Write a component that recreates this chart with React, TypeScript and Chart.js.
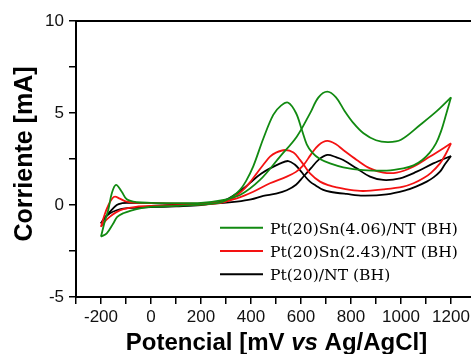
import React, { useEffect, useRef } from "react";
import { Chart, registerables } from "chart.js";

Chart.register(...registerables);

// ---- data (potential in mV, current in mA), forward scan then reverse scan ----
const greenV = [-200, -185, -171, -157, -140, -117, -97, -57, 0, 100, 200, 280, 356, 436, 516, 583, 636, 670, 705, 740, 775, 810, 850, 900, 950, 1000, 1076, 1143, 1200,
  1180, 1160, 1140, 1115, 1085, 1050, 1009, 943, 849, 769, 716, 676, 645, 623, 603, 580, 549, 520, 489, 449, 409, 380, 356, 330, 303, 276, 200, 100, 0, -44, -80, -111, -135, -151, -177, -200];
const greenI = [-1.72, -0.9, -0.27, 0.63, 1.09, 0.72, 0.31, 0.15, 0.12, 0.1, 0.12, 0.25, 0.54, 1.36, 2.63, 3.71, 4.98, 5.85, 6.16, 5.85, 5.1, 4.45, 3.9, 3.52, 3.42, 3.55, 4.35, 5.1, 5.85,
  4.9, 4.0, 3.35, 2.85, 2.45, 2.15, 1.99, 1.87, 1.9, 2.05, 2.26, 2.5, 2.85, 3.3, 4.1, 5.0, 5.56, 5.4, 4.9, 3.6, 2.1, 1.3, 0.82, 0.5, 0.27, 0.13, 0.02, -0.05, -0.1, -0.18, -0.3, -0.45, -0.65, -1.0, -1.54, -1.72];

const redV = [-200, -185, -170, -155, -144, -125, -97, -60, 0, 100, 200, 280, 343, 409, 476, 543, 580, 609, 640, 670, 705, 740, 769, 823, 876, 929, 983, 1049, 1116, 1200,
  1180, 1156, 1120, 1089, 1050, 1009, 929, 849, 796, 743, 716, 676, 636, 610, 596, 570, 536, 500, 476, 450, 423, 400, 369, 340, 316, 280, 200, 100, 0, -60, -111, -140, -164, -185, -200];
const redI = [-1.18, -0.5, 0.0, 0.35, 0.45, 0.35, 0.18, 0.12, 0.1, 0.08, 0.08, 0.15, 0.36, 0.72, 1.18, 1.54, 1.8, 2.15, 2.75, 3.25, 3.48, 3.3, 2.99, 2.45, 1.99, 1.76, 1.76, 2.08, 2.63, 3.35,
  2.8, 2.26, 1.75, 1.45, 1.18, 1.0, 0.85, 0.76, 0.82, 0.96, 1.05, 1.27, 1.72, 2.2, 2.45, 2.85, 2.99, 2.85, 2.63, 2.2, 1.72, 1.3, 0.82, 0.5, 0.27, 0.12, 0.02, -0.02, -0.05, -0.1, -0.23, -0.4, -0.63, -0.9, -1.18];

const blackV = [-200, -185, -164, -137, -115, -97, 0, 100, 200, 280, 343, 400, 449, 500, 543, 580, 610, 640, 670, 705, 740, 769, 823, 876, 929, 996, 1063, 1129, 1200,
  1175, 1156, 1130, 1103, 1060, 1023, 943, 849, 783, 716, 689, 660, 636, 610, 596, 575, 549, 515, 476, 440, 409, 375, 343, 310, 280, 200, 100, 0, -60, -111, -140, -164, -185, -200];
const blackI = [-1.0, -0.7, -0.36, 0.0, 0.1, 0.12, 0.1, 0.05, 0.05, 0.1, 0.18, 0.3, 0.49, 0.62, 0.8, 1.1, 1.55, 2.0, 2.45, 2.72, 2.6, 2.45, 1.99, 1.54, 1.36, 1.45, 1.81, 2.26, 2.66,
  2.2, 1.81, 1.5, 1.27, 1.0, 0.82, 0.58, 0.51, 0.6, 0.72, 0.82, 1.05, 1.27, 1.65, 1.9, 2.2, 2.39, 2.25, 1.99, 1.7, 1.36, 0.95, 0.63, 0.35, 0.18, 0.0, -0.07, -0.12, -0.15, -0.2, -0.3, -0.45, -0.7, -1.0];

const seriesNames = ["Pt(20)Sn(4.06)/NT (BH)", "Pt(20)Sn(2.43)/NT (BH)", "Pt(20)/NT (BH)"];
const seriesColors = ["#118a11", "#f41212", "#000000"];
const xTickValues = [-200, 0, 200, 400, 600, 800, 1000, 1200];
const yTickValues = [-5, 0, 5, 10];
const yTitle = "Corriente [mA]";
const xTitleParts: [string, boolean][] = [["Potencial [mV ", false], ["vs", true], [" Ag/AgCl]", false]];

function splitLoop(vs: number[], is: number[]) {
  let k = 0;
  for (let j = 1; j < vs.length; j++) if (vs[j] > vs[k]) k = j;
  const pts = vs.map((v, j) => ({ x: v, y: is[j] }));
  return [pts.slice(0, k + 1), pts.slice(k)];
}

const decorPlugin = {
  id: "decor",
  afterDraw(chart: any) {
    const { ctx, chartArea: ca } = chart;
    ctx.save();
    // top frame line
    ctx.strokeStyle = "#000";
    ctx.lineWidth = 2;
    ctx.beginPath();
    ctx.moveTo(ca.left - 1, ca.top);
    ctx.lineTo(ca.right + 20, ca.top);
    ctx.stroke();

    // y title
    ctx.save();
    ctx.fillStyle = "#000";
    ctx.font = 'bold 25px "Liberation Sans", Arial, sans-serif';
    ctx.translate(32, 154);
    ctx.rotate(-Math.PI / 2);
    ctx.textAlign = "center";
    ctx.textBaseline = "alphabetic";
    ctx.fillText(yTitle, 0, 0);
    ctx.restore();

    // x title (mixed italic)
    ctx.fillStyle = "#000";
    ctx.textBaseline = "alphabetic";
    ctx.textAlign = "left";
    const fonts = xTitleParts.map(([, it]) => (it ? 'italic bold 24px "Liberation Sans", Arial, sans-serif' : 'bold 24px "Liberation Sans", Arial, sans-serif'));
    let total = 0;
    const widths = xTitleParts.map(([t], j) => {
      ctx.font = fonts[j];
      const w = ctx.measureText(t).width;
      total += w;
      return w;
    });
    let x = 276.5 - total / 2;
    xTitleParts.forEach(([t], j) => {
      ctx.font = fonts[j];
      ctx.fillText(t, x, 350);
      x += widths[j];
    });

    // legend
    ctx.font = '15.6px "DejaVu Serif", serif';
    seriesNames.forEach((name, j) => {
      const y = 227.7 + j * 23.3;
      ctx.strokeStyle = seriesColors[j];
      ctx.lineWidth = 2;
      ctx.beginPath();
      ctx.moveTo(220, y);
      ctx.lineTo(263, y);
      ctx.stroke();
      ctx.fillStyle = "#000";
      ctx.fillText(name, 270, y + 5.8);
    });
    ctx.restore();
  },
};

export default function App() {
  const ref = useRef<HTMLCanvasElement | null>(null);
  useEffect(() => {
    if (!ref.current) return;
    const all = [
      [greenV, greenI],
      [redV, redI],
      [blackV, blackI],
    ];
    const datasets: any[] = [];
    all.forEach(([vs, is], j) => {
      const [fw, rv] = splitLoop(vs, is);
      [fw, rv].forEach((d) =>
        datasets.push({
          data: d,
          showLine: true,
          borderColor: seriesColors[j],
          backgroundColor: seriesColors[j],
          borderWidth: 1.8,
          pointRadius: 0,
          tension: 0.35,
          fill: false,
        })
      );
    });
    const tickFont = { family: '"Liberation Sans", Arial, sans-serif', size: 17 };
    const chart = new Chart(ref.current, {
      type: "scatter",
      data: { datasets },
      plugins: [decorPlugin],
      options: {
        animation: false,
        responsive: true,
        maintainAspectRatio: false,
        layout: { padding: { left: 0, top: 21, right: 14, bottom: 0 } },
        plugins: { legend: { display: false }, tooltip: { enabled: false } },
        scales: {
          x: {
            type: "linear",
            min: -300,
            max: 1300,
            afterFit: (s: any) => {
              s.height = 57;
            },
            ticks: {
              stepSize: 100,
              autoSkip: false,
              maxRotation: 0,
              minRotation: 0,
              padding: 3,
              color: "#111",
              font: tickFont,
              callback: (v: any) => (xTickValues.includes(Number(v)) ? String(v) : ""),
            },
            grid: { display: true, drawOnChartArea: false, drawTicks: true, tickLength: 7, color: "#000", lineWidth: 1.5 },
            border: { display: true, color: "#000", width: 2 },
          },
          y: {
            type: "linear",
            min: -5,
            max: 10,
            afterFit: (s: any) => {
              s.width = 76;
            },
            ticks: {
              stepSize: 2.5,
              autoSkip: false,
              padding: 5,
              color: "#111",
              font: tickFont,
              callback: (v: any) => (yTickValues.includes(Number(v)) ? String(v) : ""),
            },
            grid: { display: true, drawOnChartArea: false, drawTicks: true, tickLength: 7, color: "#000", lineWidth: 1.5 },
            border: { display: true, color: "#000", width: 2 },
          },
        },
      },
    });
    return () => chart.destroy();
  }, []);
  return (
    <div style={{ position: "fixed", left: 0, top: 0, width: 471, height: 354, overflow: "hidden", background: "#fff" }}>
      <div style={{ position: "relative", width: 490, height: 354 }}>
        <canvas ref={ref} />
      </div>
    </div>
  );
}
